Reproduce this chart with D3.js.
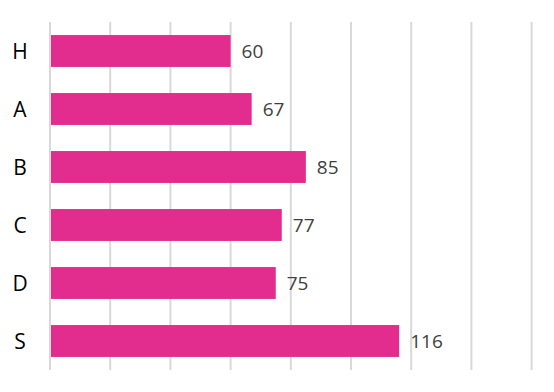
<!DOCTYPE html>
<html>
<head>
<meta charset="utf-8">
<script src="https://cdn.jsdelivr.net/npm/d3@7"></script>
<style>
body { margin: 0; background: #fff; }
svg { display: block; }
</style>
</head>
<body>
<div id="content"></div>
<script>
var categories = ["H", "A", "B", "C", "D", "S"];
var values = [60, 67, 85, 77, 75, 116];
var tickValues = [0, 20, 40, 60, 80, 100, 120, 140, 160];

var width = 554, height = 392;

var svg = d3.select("#content").append("svg")
	.attr("width", width).attr("height", height);

var x = d3.scaleLinear().domain([0, 160]).range([50, 531.6]);
var y = d3.scaleBand().domain(categories).range([22, 370])
	.paddingInner(0.45).paddingOuter(0.225);

// gridlines
svg.append("g").selectAll("line")
	.data(tickValues)
	.enter().append("line")
	.attr("x1", function (d) { return x(d); })
	.attr("x2", function (d) { return x(d); })
	.attr("y1", 22).attr("y2", 370)
	.style("stroke", "#d9d9d9").style("stroke-width", 2);

// bars
svg.append("g").selectAll("rect")
	.data(values)
	.enter().append("rect")
	.attr("x", x(0) + 1)
	.attr("y", function (d, i) { return y(categories[i]); })
	.attr("width", function (d) { return x(d) - x(0) - 1; })
	.attr("height", y.bandwidth())
	.style("fill", "#e22d8e");

// value labels
svg.append("g").selectAll("text")
	.data(values)
	.enter().append("text")
	.attr("x", function (d) { return x(d) + 11; })
	.attr("y", function (d, i) { return y(categories[i]) + y.bandwidth() / 2; })
	.attr("dy", "0.36em")
	.style("font-family", "'Open Sans', sans-serif")
	.style("font-size", "19px")
	.style("fill", "#404040")
	.text(function (d) { return d; });

// category labels
svg.append("g").selectAll("text")
	.data(categories)
	.enter().append("text")
	.attr("x", 20)
	.attr("y", function (d) { return y(d) + y.bandwidth() / 2; })
	.attr("dy", "0.36em")
	.attr("text-anchor", "middle")
	.style("font-family", "'Open Sans', sans-serif")
	.style("font-size", "21px")
	.style("fill", "#000")
	.text(function (d) { return d; });
</script>
</body>
</html>
